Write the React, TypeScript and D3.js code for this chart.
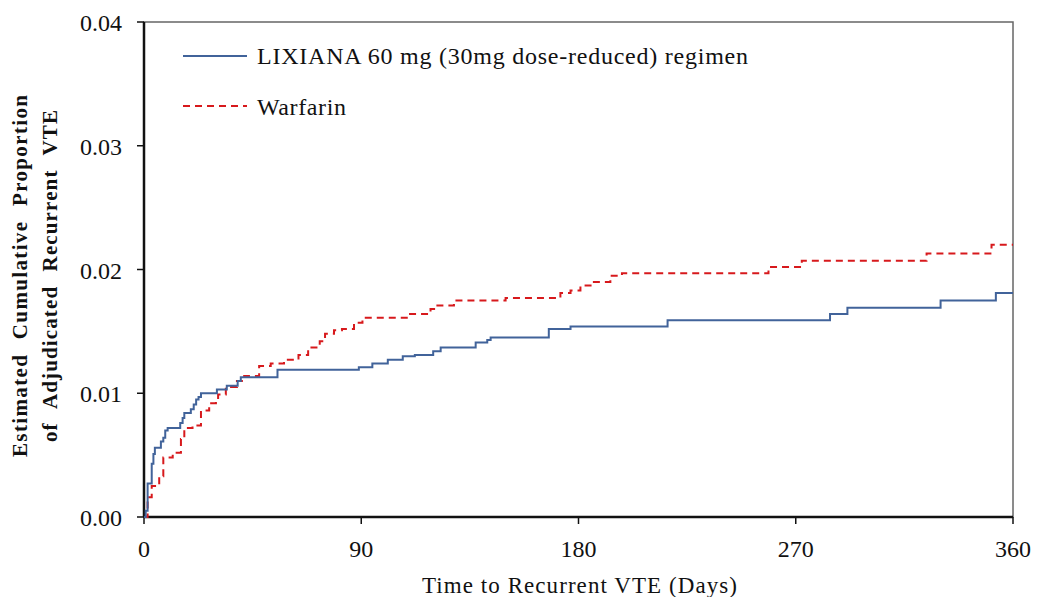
import React from "react";
import * as d3 from "d3";

// Kaplan-Meier style step data
const lixianaDays = [0, 0.7, 1.5, 3.2, 3.9, 4.5, 7, 8, 8.8, 9.8, 15, 16, 16.7, 19.4, 20.6, 21.6, 22.6, 23.6, 30.2, 34.3, 38.8, 40.1, 55.3, 89, 94.6, 101, 107.2, 112.2, 119.8, 122.9, 137.4, 142.2, 143.6, 167.7, 176.7, 216.9, 284.2, 291.4, 330, 352.9, 360];
const lixianaProp = [0, 0.0005, 0.0027, 0.0043, 0.0051, 0.0056, 0.0061, 0.0064, 0.007, 0.0072, 0.0076, 0.008, 0.0084, 0.0087, 0.0091, 0.0095, 0.0097, 0.01, 0.0103, 0.0106, 0.011, 0.0113, 0.0119, 0.0121, 0.0124, 0.0127, 0.013, 0.0131, 0.0134, 0.0137, 0.0141, 0.0143, 0.0145, 0.0152, 0.0154, 0.0159, 0.0164, 0.0169, 0.0175, 0.0181, 0.0181];

const warfarinDays = [0, 1.5, 3.2, 6.3, 8, 11.9, 15.3, 16.7, 20.1, 23.6, 27, 29.8, 30.7, 33.9, 38.5, 41.5, 47.7, 52.5, 58, 64, 68, 72.8, 75, 78.7, 82, 87, 90.5, 109.8, 118.7, 120.8, 128.4, 149.8, 172.5, 176.7, 180.8, 185, 193.2, 198, 258.7, 272.5, 324.2, 351.1, 360];
const warfarinProp = [0, 0.0016, 0.0025, 0.0033, 0.0048, 0.0052, 0.0063, 0.0072, 0.0074, 0.0086, 0.0092, 0.0095, 0.0099, 0.0105, 0.011, 0.0114, 0.0122, 0.0124, 0.0127, 0.0131, 0.0137, 0.0142, 0.0148, 0.0151, 0.0152, 0.0157, 0.0161, 0.0164, 0.0168, 0.0171, 0.0175, 0.0177, 0.0181, 0.0183, 0.0187, 0.019, 0.0195, 0.0197, 0.0202, 0.0207, 0.0213, 0.022, 0.022];

const xTicks = [0, 90, 180, 270, 360];
const yTicks = [0, 0.01, 0.02, 0.03, 0.04];

const seriesNames = ["LIXIANA 60 mg (30mg dose-reduced) regimen", "Warfarin"];

const W = 1037;
const H = 597;
const left = 144, right = 1013, top = 22, bottom = 517;
const serif = { fontFamily: '"Liberation Serif", "Times New Roman", Tinos, "DejaVu Serif", serif' };
const blue = "#41639a";
const red = "#d7191c";

const App = () => {
    const x = d3.scaleLinear().domain([0, 360]).range([left, right]);
    const y = d3.scaleLinear().domain([0, 0.04]).range([bottom, top]);

    const line = d3.line<[number, number]>()
        .x(d => x(d[0]))
        .y(d => y(d[1]))
        .curve(d3.curveStepAfter);

    const lixPts = lixianaDays.map((d, i) => [d, lixianaProp[i]] as [number, number]);
    const warPts = warfarinDays.map((d, i) => [d, warfarinProp[i]] as [number, number]);

    return (
        <svg width={W} height={H} style={{ position: "absolute", left: 0, top: 0, background: "#fff" }}>
            {/* frame */}
            <rect x={left} y={top} width={right - left} height={bottom - top} fill="none" stroke="#666" strokeWidth={1.5} />
            <line x1={left} x2={left} y1={top} y2={bottom} stroke="#111" strokeWidth={2.5} />
            <line x1={left} x2={right} y1={bottom} y2={bottom} stroke="#111" strokeWidth={2.5} />

            {/* y axis */}
            {yTicks.map(t => (
                <g key={"y" + t}>
                    <line x1={left - 7} x2={left} y1={y(t)} y2={y(t)} stroke="#111" strokeWidth={1.5} />
                    <text x={left - 22} y={y(t) + 9} textAnchor="end" style={serif} fontSize={24} fill="#111">
                        {d3.format(".2f")(t)}
                    </text>
                </g>
            ))}

            {/* x axis */}
            {xTicks.map(t => (
                <g key={"x" + t}>
                    <line x1={x(t)} x2={x(t)} y1={bottom} y2={bottom + 7} stroke="#111" strokeWidth={1.5} />
                    <text x={x(t)} y={557} textAnchor="middle" style={serif} fontSize={24} fill="#111">
                        {t}
                    </text>
                </g>
            ))}

            <text x={422} y={593} style={serif} fontSize={23} textLength={315} lengthAdjust="spacing" fill="#111">
                Time to Recurrent VTE (Days)
            </text>

            <g transform="translate(27, 276) rotate(-90)">
                <text x={-181} y={0} style={serif} fontSize={21} fontWeight="bold" wordSpacing={8} textLength={362} lengthAdjust="spacing" fill="#111">
                    Estimated Cumulative Proportion
                </text>
                <text x={-166} y={30} style={serif} fontSize={21} fontWeight="bold" wordSpacing={8} textLength={332} lengthAdjust="spacing" fill="#111">
                    of Adjudicated Recurrent VTE
                </text>
            </g>

            {/* curves */}
            <path d={line(warPts) || ""} fill="none" stroke={red} strokeWidth={2} strokeDasharray="7,5" />
            <path d={line(lixPts) || ""} fill="none" stroke={blue} strokeWidth={2} />

            {/* legend */}
            <line x1={183} x2={247} y1={56} y2={56} stroke={blue} strokeWidth={2} />
            <text x={257} y={64} style={serif} fontSize={24} textLength={491} lengthAdjust="spacing" fill="#111">{seriesNames[0]}</text>
            <line x1={183} x2={247} y1={106} y2={106} stroke={red} strokeWidth={2} strokeDasharray="7,5" />
            <text x={257} y={115} style={serif} fontSize={24} textLength={89} lengthAdjust="spacing" fill="#111">{seriesNames[1]}</text>
        </svg>
    );
};

export default App;
